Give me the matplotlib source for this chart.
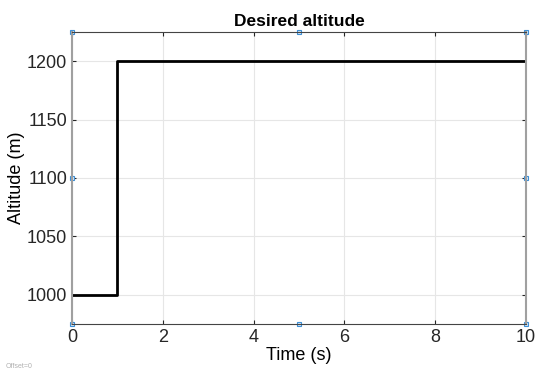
import matplotlib
matplotlib.use('Agg')
import matplotlib.pyplot as plt

# step command: 1000 m until t=1 s, then 1200 m
t = [0, 1, 1, 10]
alt = [1000, 1000, 1200, 1200]

xticks = [0, 2, 4, 6, 8, 10]
yticks = [1000, 1050, 1100, 1150, 1200]

plt.rcParams['font.family'] = ['Liberation Sans', 'DejaVu Sans']

fig = plt.figure(figsize=(5.36, 3.73), dpi=100)
ax = fig.add_axes([72/536, 1 - 324/373, 454/536, 292/373])

ax.plot(t, alt, color='black', linewidth=2)
ax.set_xlim(0, 10)
ax.set_ylim(975, 1225)
ax.set_xticks(xticks)
ax.set_yticks(yticks)
ax.grid(True, color='#e6e6e6', linewidth=0.8)
ax.set_axisbelow(True)
ax.tick_params(labelsize=13, length=3, direction='in', top=True, right=True, colors='#262626')
for s in ['top', 'bottom']:
    ax.spines[s].set_color('#444444')
    ax.spines[s].set_linewidth(0.8)
for s in ['left', 'right']:
    ax.spines[s].set_color('#a0a0a0')
    ax.spines[s].set_linewidth(1.5)

ax.set_xlabel('Time (s)', fontsize=13, labelpad=1)
ax.set_ylabel('Altitude (m)', fontsize=13, labelpad=1)
ax.set_title('Desired altitude', fontsize=12.5, fontweight='bold', pad=4)

# selection handles
hx = [0, 5, 10, 0, 10, 0, 5, 10]
hy = [1225, 1225, 1225, 1100, 1100, 975, 975, 975]
ax.plot(hx, hy, 's', markersize=3.5, markerfacecolor='#d8e8f8',
        markeredgecolor='#3d8fd6', markeredgewidth=0.8, clip_on=False, linestyle='none')

fig.text(6/536, 1 - 368/373, 'Offset=0', fontsize=5, color='#b0b0b0')

fig.savefig('out.png', dpi=100)
